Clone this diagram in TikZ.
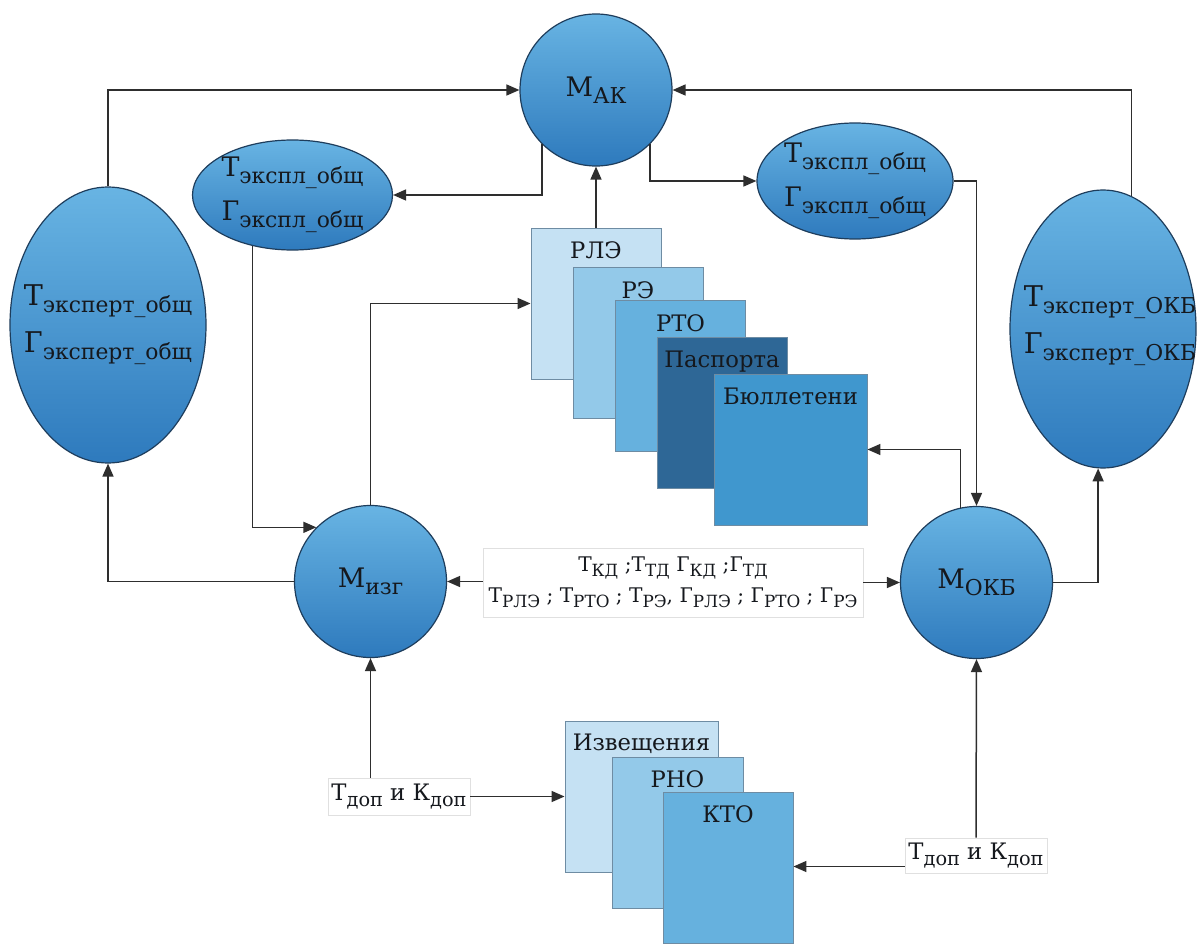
\documentclass[tikz,border=0pt]{standalone}
\usepackage{fontspec}
\setmainfont{DejaVu Serif}[Scale=0.84]
\usetikzlibrary{shapes.geometric,arrows.meta}
\definecolor{blueT}{HTML}{68B4E3}
\definecolor{blueB}{HTML}{2E7ABD}
\definecolor{navy}{HTML}{1E3D5C}
\definecolor{docline}{HTML}{6E8CA3}
\definecolor{dA}{HTML}{C5E1F3}
\definecolor{dB}{HTML}{93C9E9}
\definecolor{dC}{HTML}{66B1DE}
\definecolor{dD}{HTML}{2E6796}
\definecolor{dE}{HTML}{4097CE}
\definecolor{ink}{HTML}{15181D}
\newcommand{\subtx}[2]{\raisebox{-0.24em}{\fontsize{#1}{#1}\selectfont #2}}
\begin{document}
\begin{tikzpicture}[x=1pt,y=-1pt,
  conn/.style={draw=black!82, line width=1.5pt, -{Triangle[length=13pt,width=11pt]}},
  circ/.style={circle, minimum size=152pt, inner sep=0pt, draw=navy, line width=1.2pt, top color=blueT, bottom color=blueB, text=ink, font=\fontsize{32}{32}\selectfont},
  ell/.style={ellipse, inner sep=0pt, draw=navy, line width=1.2pt, top color=blueT, bottom color=blueB},
  elltext/.style={align=center, text=ink, inner sep=0pt},
  doc/.style={rectangle, draw=docline, line width=0.9pt, minimum width=130pt, minimum height=151pt, inner sep=0pt},
  doclbl/.style={font=\fontsize{27}{27}\selectfont, anchor=north, inner sep=0pt, text=ink},
  lbl/.style={rectangle, draw=black!12, fill=white, line width=0.6pt, align=center, inner sep=0pt, text=ink}
]
\fill[white] (0,0) rectangle (1197,944);
\useasboundingbox (0,0) rectangle (1197,944);

% circles
\node[circ] (mak) at (596,90) {М\subtx{26}{АК}};
\node[circ] (mizg) at (370.5,581.5) {М\subtx{26}{изг}};
\node[circ] (mokb) at (976.5,582.5) {М\subtx{26}{ОКБ}};

% ellipses
\node[ell, minimum width=200pt, minimum height=110pt] (ellL) at (292.5,195) {};
\node[elltext, font=\fontsize{32}{44}\selectfont] (ellLt) at (ellL) {Т\subtx{26}{экспл\_общ}\\Г\subtx{26}{экспл\_общ}};
\node[ell, minimum width=196pt, minimum height=116pt] (ellR) at (855,181) {};
\node[elltext, font=\fontsize{32}{44}\selectfont] (ellRt) at (ellR) {Т\subtx{26}{экспл\_общ}\\Г\subtx{26}{экспл\_общ}};
\node[ell, minimum width=196pt, minimum height=276pt] (bigL) at (108,325) {};
\node[elltext, font=\fontsize{34}{47}\selectfont] (bigLt) at (bigL) {Т\subtx{26}{эксперт\_общ}\\Г\subtx{26}{эксперт\_общ}};
\node[ell, minimum width=186pt, minimum height=278pt] (bigR) at (1103,329) {};
\node[elltext, font=\fontsize{34}{47}\selectfont] (bigRt) at (1110,326) {Т\subtx{26}{эксперт\_ОКБ}\\Г\subtx{26}{эксперт\_ОКБ}};

% top document stack
\node[doc, fill=dA] (rle) at (596,303.5) {};
\node[doclbl] (rleT) at ([yshift=-14pt]rle.north) {РЛЭ};
\node[doc, fill=dB] (re) at (638,343) {};
\node[doclbl] (reT) at ([yshift=-14pt]re.north) {РЭ};
\node[doc, fill=dC] (rto) at (680.5,376) {};
\node[doclbl] (rtoT) at ([yshift=-14pt]rto.north) {РТО};
\node[doc, fill=dD] (pas) at (722,412.5) {};
\node[doclbl] (pasT) at ([yshift=-14pt]pas.north) {Паспорта};
\node[doc, fill=dE, minimum width=153pt] (bul) at (790.5,449.5) {};
\node[doclbl] (bulT) at ([yshift=-14pt]bul.north) {Бюллетени};

% bottom document stack
\node[doc, fill=dA, minimum width=153pt] (izv) at (641.5,796.5) {};
\node[doclbl] (izvT) at ([yshift=-13pt]izv.north) {Извещения};
\node[doc, fill=dB, minimum width=131pt] (rno) at (677.5,832.5) {};
\node[doclbl] (rnoT) at ([yshift=-14pt]rno.north) {РНО};
\node[doc, fill=dC] (kto) at (728,867.5) {};
\node[doclbl] (ktoT) at ([yshift=-14pt]kto.north) {КТО};

% labels
\node[lbl, minimum width=380pt, minimum height=69pt, font=\fontsize{24}{31}\selectfont] (clbl) at (673,582.5)
  {Т\subtx{20}{КД} ;Т\subtx{20}{ТД} Г\subtx{20}{КД} ;Г\subtx{20}{ТД}\\
   Т\subtx{20}{РЛЭ} ; Т\subtx{20}{РТО} ; Т\subtx{20}{РЭ}, Г\subtx{20}{РЛЭ} ; Г\subtx{20}{РТО} ; Г\subtx{20}{РЭ}};
\node[lbl, minimum width=142pt, minimum height=37pt, font=\fontsize{27}{27}\selectfont] (lblL) at (399,796.5) {Т\subtx{23}{доп} и К\subtx{23}{доп}};
\node[lbl, minimum width=142pt, minimum height=35pt, font=\fontsize{27}{27}\selectfont] (lblR) at (976,855.5) {Т\subtx{23}{доп} и К\subtx{23}{доп}};

% connectors
\draw[conn] (bigL.north) |- (mak.west);
\draw[conn] (bigR.78) |- (mak.east);
\draw[conn] (mak.-135) |- (ellL.east);
\draw[conn] (mak.-45) |- (ellR.west);
\draw[conn] (rle.north) -- (mak.south);
\draw[conn] (ellL.232) |- (mizg.135);
\draw[conn] (mizg.north) |- (rle.west);
\draw[conn] (mizg.west) -| (bigL.south);
\draw[conn] (clbl.west |- mizg.east) -- (mizg.east);
\draw[conn] (clbl.east |- mokb.west) -- (mokb.west);
\draw[conn] (ellR.east) -| (mokb.north);
\draw[conn] (mokb.102) |- (bul.east);
\draw[conn] (mokb.east) -| (bigR.-92);
\draw[conn] (mizg.south |- lblL.north) -- (mizg.south);
\draw[conn] (lblL.east) -- (izv.west |- lblL.east);
\draw[conn] (lblR.north) -- (mokb.south);
\coordinate (rk) at ([yshift=-11pt]lblR.west);
\draw[conn] (rk) -- (kto.east |- rk);
\end{tikzpicture}
\end{document}
